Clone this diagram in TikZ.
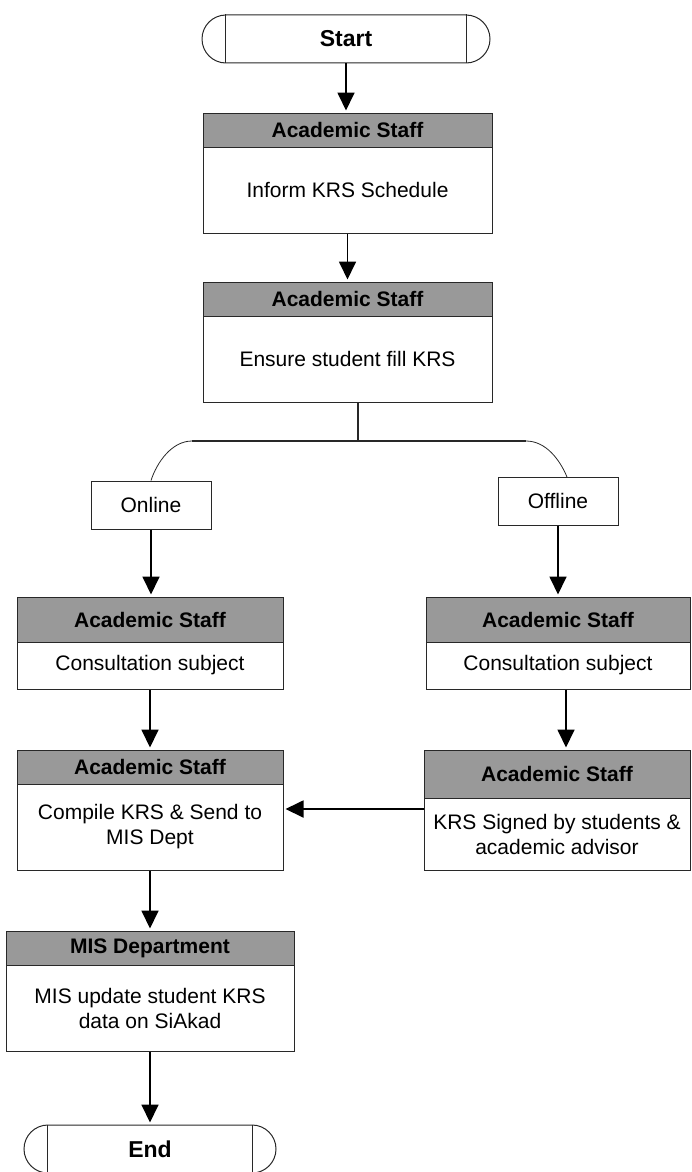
\documentclass[tikz,border=0pt]{standalone}
\usepackage{fontspec}
\setmainfont{Liberation Sans}
\usetikzlibrary{arrows.meta}
\definecolor{headgray}{RGB}{153,153,153}
\definecolor{edgegray}{RGB}{40,40,40}
\begin{document}
\begin{tikzpicture}[x=1pt,y=-1pt,
  box/.style={draw=edgegray, line width=1pt, fill=white, inner sep=0pt, align=center,
              font=\fontsize{21}{25}\selectfont},
  hdr/.style={box, fill=headgray, font=\fontsize{21}{25}\selectfont\bfseries},
  term/.style={draw=edgegray, line width=1pt, rounded corners=24pt, inner sep=0pt,
               minimum height=48pt, font=\fontsize{23}{27}\selectfont\bfseries},
  arr/.style={line width=1.8pt, -{Triangle[length=18pt,width=17pt]}, shorten >=2pt},
  conn/.style={line width=1.1pt, draw=edgegray}
]
\useasboundingbox (0,0) rectangle (691,1172);

% Start
\node[term, minimum width=288pt] (start) at (346,39) {Start};
\draw[conn, line width=0.8pt] ([xshift=24pt]start.north west) -- ([xshift=24pt]start.south west);
\draw[conn, line width=0.8pt] ([xshift=-24pt]start.north east) -- ([xshift=-24pt]start.south east);

% Box 1
\node[hdr, minimum width=289pt, minimum height=34pt] (h1) at (347.5,130) {Academic Staff};
\node[box, minimum width=289pt, minimum height=86pt] (b1) at (347.5,190) {Inform KRS Schedule};

% Box 2
\node[hdr, minimum width=289pt, minimum height=34pt] (h2) at (347.5,299) {Academic Staff};
\node[box, minimum width=289pt, minimum height=86pt] (b2) at (347.5,359) {Ensure student fill KRS};

% Online / Offline
\node[box, minimum width=120pt, minimum height=48pt] (online) at (151,505) {Online};
\node[box, minimum width=120pt, minimum height=48pt] (offline) at (558,501) {Offline};

% Left consult
\node[hdr, minimum width=266pt, minimum height=45pt] (lch) at (150,619.5) {Academic Staff};
\node[box, minimum width=266pt, minimum height=47pt] (lcb) at (150,665.5) {Consultation subject};

% Right consult
\node[hdr, minimum width=264pt, minimum height=45pt] (rch) at (558,619.5) {Academic Staff};
\node[box, minimum width=264pt, minimum height=47pt] (rcb) at (558,665.5) {Consultation subject};

% Compile
\node[hdr, minimum width=266pt, minimum height=34pt] (ch) at (150,767) {Academic Staff};
\node[box, minimum width=266pt, minimum height=86pt] (cb) at (150,827) {Compile KRS \& Send to\\MIS Dept};

% Signed
\node[hdr, minimum width=266pt, minimum height=48pt] (sh) at (557,774) {Academic Staff};
\node[box, minimum width=266pt, minimum height=72pt] (sb) at (557,834) {KRS Signed by students \&\\academic advisor};

% MIS
\node[hdr, minimum width=288pt, minimum height=34pt] (mh) at (150,948) {MIS Department};
\node[box, minimum width=288pt, minimum height=86pt] (mb) at (150,1008) {MIS update student KRS\\data on SiAkad};

% End
\node[term, minimum width=252pt] (end) at (150,1149) {End};
\draw[conn, line width=0.8pt] ([xshift=24pt]end.north west) -- ([xshift=24pt]end.south west);
\draw[conn, line width=0.8pt] ([xshift=-24pt]end.north east) -- ([xshift=-24pt]end.south east);

% Connectors
\draw[arr] (start.south) -- (start.south |- h1.north);
\draw[arr] (b1.south) -- (h2.north);

\coordinate (bj) at ([xshift=10.5pt]b2.south);
\coordinate (bh) at (358,441);
\coordinate (bl) at (192,441);
\coordinate (br) at (526,441);
\coordinate (offtop) at (567,477);
\draw[conn] (bj) -- (bh);
\draw[conn] (bl) -- (br);
\draw[conn, line width=0.8pt] (bl) .. controls (172,441) and (157,462) .. (online.north);
\draw[conn, line width=0.8pt] (br) .. controls (546,441) and (560,460) .. (offtop);

\draw[arr] (online.south) -- (online.south |- lch.north);
\draw[arr] (offline.south) -- (offline.south |- rch.north);
\draw[arr] (lcb.south) -- (lcb.south |- ch.north);
\coordinate (rcs) at ([xshift=8pt]rcb.south);
\draw[arr] (rcs) -- (rcs |- sh.north);
\coordinate (sgl) at (424,809);
\draw[arr] (sgl) -- (sgl -| cb.east);
\draw[arr] (cb.south) -- (mh.north);
\draw[arr] (mb.south) -- (end.north);
\end{tikzpicture}
\end{document}
